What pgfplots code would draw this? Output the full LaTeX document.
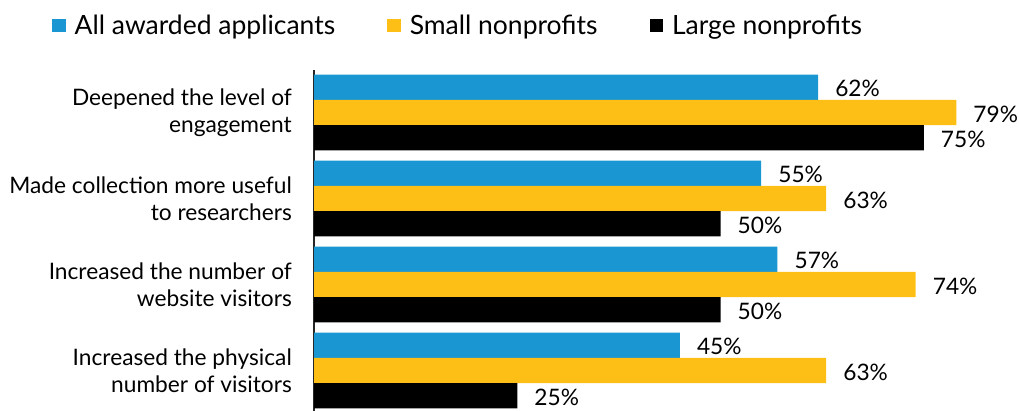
\documentclass[border=0pt]{standalone}
\usepackage{fontspec}
\setmainfont{Lato}
\usepackage{pgfplots}
\pgfplotsset{compat=1.18}
\definecolor{cblue}{HTML}{1A96D3}
\definecolor{cyellow}{HTML}{FDBE16}
\begin{document}
\begin{tikzpicture}
\path[use as bounding box] (0,0) rectangle (1019bp,411bp);
\begin{axis}[
  at={(314bp,0bp)}, anchor=south west,
  scale only axis, width=699.2bp, height=341bp,
  /pgf/number format/assume math mode=true,
  xbar, bar width=25.3bp,
  xmin=0, xmax=86, ymin=-0.471, ymax=3.494,
  axis x line=none,
  axis y line*=left,
  y axis line style={-, line width=1.6bp, black!85},
  ytick={0,1,2,3},
  yticklabels={{Increased the physical\\number of visitors},{Increased the number of\\website visitors},{Made collection more useful\\to researchers},{Deepened the level of\\engagement}},
  major tick length=0pt,
  yticklabel style={align=right, font=\fontsize{22.7bp}{27bp}\selectfont, inner sep=0pt, xshift=-22bp},
  nodes near coords={\pgfmathprintnumber{\pgfplotspointmeta}\%},
  every node near coord/.append style={anchor=west, inner sep=0pt, xshift=17bp, yshift=-1.5bp, font=\fontsize{22.7bp}{27bp}\selectfont, text=black},
  legend columns=3,
  legend style={at={(-0.3747,1.1305)}, anchor=west, draw=none, inner sep=0pt, font=\fontsize{26.5bp}{30bp}\selectfont,
    nodes={inner sep=0pt},
    /tikz/every odd column/.append style={column sep=9bp},
    /tikz/every even column/.append style={column sep=52bp}},
  legend cell align=left,
  legend image code/.code={\fill[#1] (0bp,-6.8bp) rectangle (13.5bp,6.8bp);},
]
\addplot[fill=cblue, draw=none, bar shift=25.3bp] coordinates {(45,0) (57,1) (55,2) (62,3)};
\addplot[fill=cyellow, draw=none, bar shift=0bp] coordinates {(63,0) (74,1) (63,2) (79,3)};
\addplot[fill=black, draw=none, bar shift=-25.3bp] coordinates {(25,0) (50,1) (50,2) (75,3)};
\legend{All awarded applicants, Small nonprofits, Large nonprofits}
\end{axis}
\end{tikzpicture}
\end{document}
